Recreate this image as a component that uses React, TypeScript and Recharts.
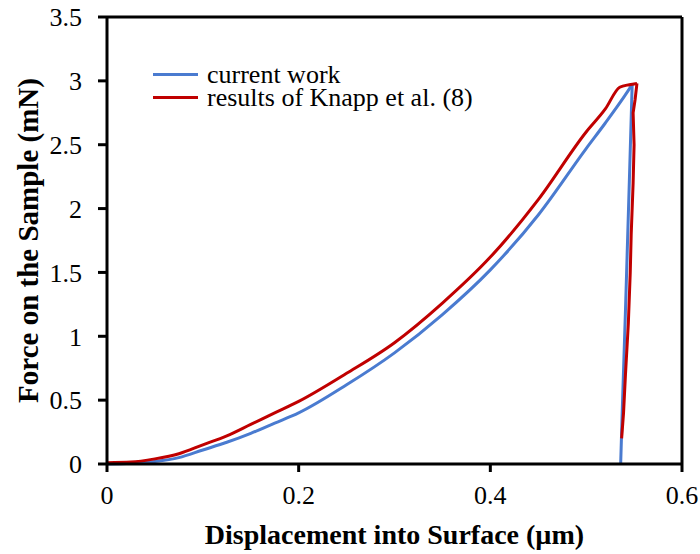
import React from 'react';
import { LineChart, Line, XAxis, YAxis, ReferenceLine } from 'recharts';

// current work (displacement µm, force mN)
const currentLoadX = [0, 0.025, 0.05, 0.075, 0.1, 0.125, 0.15, 0.175, 0.2, 0.25, 0.3, 0.35, 0.4, 0.45, 0.5, 0.52, 0.54, 0.548];
const currentLoadF = [0, 0.005, 0.02, 0.05, 0.11, 0.17, 0.24, 0.32, 0.4, 0.62, 0.87, 1.17, 1.52, 1.95, 2.47, 2.67, 2.88, 2.97];
const currentUnloadX = [0.548, 0.545, 0.541, 0.538, 0.536];
const currentUnloadF = [2.97, 2.2, 1.2, 0.5, 0];

// results of Knapp et al. (8)
const knappLoadX = [0, 0.025, 0.05, 0.075, 0.1, 0.125, 0.15, 0.175, 0.2, 0.25, 0.3, 0.35, 0.4, 0.45, 0.5, 0.52, 0.535, 0.545, 0.553];
const knappLoadF = [0.01, 0.015, 0.04, 0.08, 0.15, 0.22, 0.31, 0.4, 0.49, 0.71, 0.95, 1.26, 1.62, 2.07, 2.6, 2.78, 2.95, 2.97, 2.98];
const knappUnloadX = [0.553, 0.551, 0.549, 0.55, 0.549, 0.547, 0.546, 0.544, 0.541, 0.539, 0.537];
const knappUnloadF = [2.98, 2.85, 2.75, 2.5, 2.2, 1.8, 1.5, 1.1, 0.7, 0.4, 0.2];

const xTicks = [0, 0.2, 0.4, 0.6];
const yTicks = [0, 0.5, 1, 1.5, 2, 2.5, 3, 3.5];

const seriesNames = ['current work', 'results of Knapp et al. (8)'];
const seriesColors = ['#4A7BD0', '#C00000'];

const pairs = (xs: number[], fs: number[]) => xs.map((x, i) => ({ x, f: fs[i] }));

const font = '"Liberation Serif", "Times New Roman", serif';

export default function App() {
  return (
    <div style={{ position: 'absolute', left: 0, top: 0, width: 700, height: 554, background: '#fff' }}>
      <LineChart width={700} height={554} margin={{ top: 17, right: 18, bottom: 0, left: 0 }}>
        <XAxis
          type="number"
          dataKey="x"
          domain={[0, 0.6]}
          ticks={xTicks}
          allowDataOverflow
          height={90}
          tickSize={8}
          tickMargin={14}
          stroke="#000"
          strokeWidth={3}
          tick={{ fill: '#000', fontSize: 26, fontFamily: font }}
          label={{ value: 'Displacement into Surface (µm)', position: 'insideBottom', offset: 10, style: { fill: '#000', fontSize: 28, fontWeight: 'bold', fontFamily: font } }}
        />
        <YAxis
          type="number"
          domain={[0, 3.5]}
          ticks={yTicks}
          width={107}
          tickSize={9}
          tickMargin={16}
          stroke="#000"
          strokeWidth={3}
          tick={{ fill: '#000', fontSize: 26, fontFamily: font }}
          label={{ value: 'Force on the Sample (mN)', angle: -90, position: 'insideLeft', offset: 28, style: { textAnchor: 'middle', fill: '#000', fontSize: 29, fontWeight: 'bold', fontFamily: font } }}
        />
        <ReferenceLine y={3.5} stroke="#000" strokeWidth={3} />
        <ReferenceLine x={0.6} stroke="#000" strokeWidth={3} />
        <Line data={pairs(currentLoadX, currentLoadF)} dataKey="f" name={seriesNames[0]} type="monotone" stroke={seriesColors[0]} strokeWidth={3} dot={false} isAnimationActive={false} />
        <Line data={pairs(currentUnloadX, currentUnloadF)} dataKey="f" name={seriesNames[0]} type="linear" stroke={seriesColors[0]} strokeWidth={3} dot={false} isAnimationActive={false} />
        <Line data={pairs(knappLoadX, knappLoadF)} dataKey="f" name={seriesNames[1]} type="monotone" stroke={seriesColors[1]} strokeWidth={3} dot={false} isAnimationActive={false} />
        <Line data={pairs(knappUnloadX, knappUnloadF)} dataKey="f" name={seriesNames[1]} type="linear" stroke={seriesColors[1]} strokeWidth={3} dot={false} isAnimationActive={false} />
      </LineChart>
      <div style={{ position: 'absolute', left: 153, top: 63, fontFamily: font, fontSize: 26, lineHeight: '23px', color: '#000' }}>
        {seriesNames.map((n, i) => (
          <div key={n} style={{ display: 'flex', alignItems: 'center', height: 23 }}>
            <div style={{ width: 45, height: 3, background: seriesColors[i], marginRight: 9 }} />
            <span>{n}</span>
          </div>
        ))}
      </div>
    </div>
  );
}
